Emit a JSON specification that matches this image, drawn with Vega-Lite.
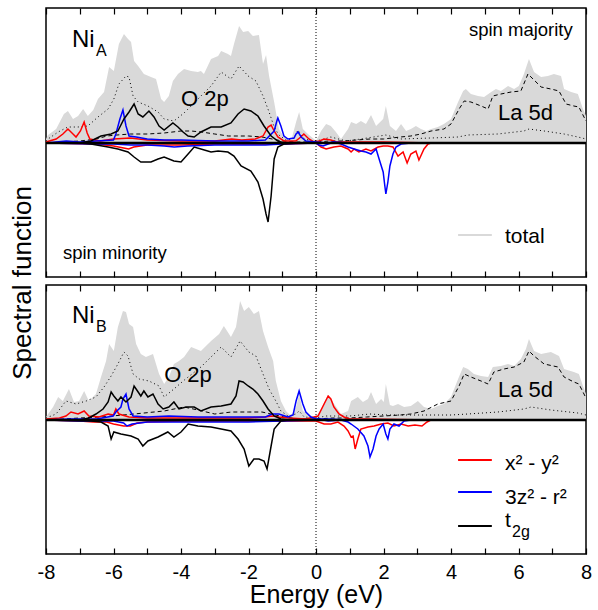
{
"$schema": "https://vega.github.io/schema/vega-lite/v6.json",
"padding": {"left": 8, "top": 6, "right": 12, "bottom": 0},
"bounds": "flush",
"config": {"font": "Liberation Sans", "view": {"stroke": "black", "strokeWidth": 1.5}, "axis": {"grid": false, "domain": false, "tickColor": "black", "labelColor": "black", "titleColor": "black", "titleFontWeight": "normal"}},
"spacing": 8,
"datasets": {
"curves": [
{"p":"A","s":"tot","d":"u","x":-8,"y":4},{"p":"A","s":"tot","d":"u","x":-7.94,"y":8},{"p":"A","s":"tot","d":"u","x":-7.7,"y":14},{"p":"A","s":"tot","d":"u","x":-7.47,"y":29},{"p":"A","s":"tot","d":"u","x":-7.35,"y":32},{"p":"A","s":"tot","d":"u","x":-7.2,"y":24},{"p":"A","s":"tot","d":"u","x":-7.05,"y":27},{"p":"A","s":"tot","d":"u","x":-6.9,"y":34},{"p":"A","s":"tot","d":"u","x":-6.76,"y":27},{"p":"A","s":"tot","d":"u","x":-6.6,"y":33},{"p":"A","s":"tot","d":"u","x":-6.46,"y":44},{"p":"A","s":"tot","d":"u","x":-6.28,"y":51},{"p":"A","s":"tot","d":"u","x":-6.13,"y":76},{"p":"A","s":"tot","d":"u","x":-5.99,"y":72},{"p":"A","s":"tot","d":"u","x":-5.84,"y":99},{"p":"A","s":"tot","d":"u","x":-5.69,"y":109},{"p":"A","s":"tot","d":"u","x":-5.57,"y":104},{"p":"A","s":"tot","d":"u","x":-5.48,"y":101},{"p":"A","s":"tot","d":"u","x":-5.39,"y":82},{"p":"A","s":"tot","d":"u","x":-5.27,"y":77},{"p":"A","s":"tot","d":"u","x":-5.1,"y":69},{"p":"A","s":"tot","d":"u","x":-4.89,"y":66},{"p":"A","s":"tot","d":"u","x":-4.74,"y":64},{"p":"A","s":"tot","d":"u","x":-4.59,"y":44},{"p":"A","s":"tot","d":"u","x":-4.5,"y":41},{"p":"A","s":"tot","d":"u","x":-4.36,"y":47},{"p":"A","s":"tot","d":"u","x":-4.24,"y":62},{"p":"A","s":"tot","d":"u","x":-4.09,"y":69},{"p":"A","s":"tot","d":"u","x":-3.91,"y":74},{"p":"A","s":"tot","d":"u","x":-3.7,"y":72},{"p":"A","s":"tot","d":"u","x":-3.5,"y":71},{"p":"A","s":"tot","d":"u","x":-3.41,"y":72},{"p":"A","s":"tot","d":"u","x":-3.32,"y":69},{"p":"A","s":"tot","d":"u","x":-3.11,"y":84},{"p":"A","s":"tot","d":"u","x":-2.9,"y":87},{"p":"A","s":"tot","d":"u","x":-2.81,"y":92},{"p":"A","s":"tot","d":"u","x":-2.61,"y":89},{"p":"A","s":"tot","d":"u","x":-2.52,"y":87},{"p":"A","s":"tot","d":"u","x":-2.43,"y":99},{"p":"A","s":"tot","d":"u","x":-2.28,"y":117},{"p":"A","s":"tot","d":"u","x":-2.16,"y":111},{"p":"A","s":"tot","d":"u","x":-2.01,"y":112},{"p":"A","s":"tot","d":"u","x":-1.87,"y":107},{"p":"A","s":"tot","d":"u","x":-1.69,"y":108},{"p":"A","s":"tot","d":"u","x":-1.57,"y":79},{"p":"A","s":"tot","d":"u","x":-1.48,"y":88},{"p":"A","s":"tot","d":"u","x":-1.39,"y":67},{"p":"A","s":"tot","d":"u","x":-1.24,"y":41},{"p":"A","s":"tot","d":"u","x":-1.1,"y":14},{"p":"A","s":"tot","d":"u","x":-0.95,"y":6},{"p":"A","s":"tot","d":"u","x":-0.74,"y":2},{"p":"A","s":"tot","d":"u","x":-0.59,"y":21},{"p":"A","s":"tot","d":"u","x":-0.5,"y":31},{"p":"A","s":"tot","d":"u","x":-0.39,"y":14},{"p":"A","s":"tot","d":"u","x":-0.24,"y":9},{"p":"A","s":"tot","d":"u","x":-0.06,"y":4},{"p":"A","s":"tot","d":"u","x":0,"y":2},{"p":"A","s":"tot","d":"u","x":0.15,"y":12},{"p":"A","s":"tot","d":"u","x":0.3,"y":19},{"p":"A","s":"tot","d":"u","x":0.44,"y":17},{"p":"A","s":"tot","d":"u","x":0.59,"y":11},{"p":"A","s":"tot","d":"u","x":0.74,"y":4},{"p":"A","s":"tot","d":"u","x":0.95,"y":14},{"p":"A","s":"tot","d":"u","x":1.04,"y":21},{"p":"A","s":"tot","d":"u","x":1.19,"y":19},{"p":"A","s":"tot","d":"u","x":1.33,"y":22},{"p":"A","s":"tot","d":"u","x":1.48,"y":19},{"p":"A","s":"tot","d":"u","x":1.63,"y":28},{"p":"A","s":"tot","d":"u","x":1.78,"y":17},{"p":"A","s":"tot","d":"u","x":1.87,"y":20},{"p":"A","s":"tot","d":"u","x":1.99,"y":24},{"p":"A","s":"tot","d":"u","x":2.07,"y":37},{"p":"A","s":"tot","d":"u","x":2.19,"y":17},{"p":"A","s":"tot","d":"u","x":2.37,"y":12},{"p":"A","s":"tot","d":"u","x":2.52,"y":19},{"p":"A","s":"tot","d":"u","x":2.67,"y":12},{"p":"A","s":"tot","d":"u","x":2.81,"y":14},{"p":"A","s":"tot","d":"u","x":2.96,"y":17},{"p":"A","s":"tot","d":"u","x":3.11,"y":14},{"p":"A","s":"tot","d":"u","x":3.26,"y":12},{"p":"A","s":"tot","d":"u","x":3.41,"y":14},{"p":"A","s":"tot","d":"u","x":3.61,"y":16},{"p":"A","s":"tot","d":"u","x":3.79,"y":19},{"p":"A","s":"tot","d":"u","x":4.0,"y":24},{"p":"A","s":"tot","d":"u","x":4.21,"y":41},{"p":"A","s":"tot","d":"u","x":4.36,"y":52},{"p":"A","s":"tot","d":"u","x":4.44,"y":54},{"p":"A","s":"tot","d":"u","x":4.59,"y":49},{"p":"A","s":"tot","d":"u","x":4.8,"y":47},{"p":"A","s":"tot","d":"u","x":4.98,"y":46},{"p":"A","s":"tot","d":"u","x":5.19,"y":51},{"p":"A","s":"tot","d":"u","x":5.33,"y":54},{"p":"A","s":"tot","d":"u","x":5.48,"y":52},{"p":"A","s":"tot","d":"u","x":5.69,"y":57},{"p":"A","s":"tot","d":"u","x":5.87,"y":54},{"p":"A","s":"tot","d":"u","x":6.01,"y":57},{"p":"A","s":"tot","d":"u","x":6.16,"y":69},{"p":"A","s":"tot","d":"u","x":6.31,"y":84},{"p":"A","s":"tot","d":"u","x":6.46,"y":71},{"p":"A","s":"tot","d":"u","x":6.67,"y":66},{"p":"A","s":"tot","d":"u","x":6.87,"y":67},{"p":"A","s":"tot","d":"u","x":7.05,"y":69},{"p":"A","s":"tot","d":"u","x":7.26,"y":67},{"p":"A","s":"tot","d":"u","x":7.35,"y":54},{"p":"A","s":"tot","d":"u","x":7.56,"y":51},{"p":"A","s":"tot","d":"u","x":7.76,"y":49},{"p":"A","s":"tot","d":"u","x":7.91,"y":34},{"p":"A","s":"tot","d":"u","x":8,"y":27},

{"p":"A","s":"o2p","d":"u","x":-8,"y":2},{"p":"A","s":"o2p","d":"u","x":-7.94,"y":4},{"p":"A","s":"o2p","d":"u","x":-7.64,"y":11},{"p":"A","s":"o2p","d":"u","x":-7.35,"y":16},{"p":"A","s":"o2p","d":"u","x":-7.05,"y":16},{"p":"A","s":"o2p","d":"u","x":-6.76,"y":17},{"p":"A","s":"o2p","d":"u","x":-6.46,"y":26},{"p":"A","s":"o2p","d":"u","x":-6.16,"y":34},{"p":"A","s":"o2p","d":"u","x":-5.99,"y":44},{"p":"A","s":"o2p","d":"u","x":-5.84,"y":59},{"p":"A","s":"o2p","d":"u","x":-5.63,"y":67},{"p":"A","s":"o2p","d":"u","x":-5.54,"y":66},{"p":"A","s":"o2p","d":"u","x":-5.42,"y":47},{"p":"A","s":"o2p","d":"u","x":-5.27,"y":41},{"p":"A","s":"o2p","d":"u","x":-4.98,"y":37},{"p":"A","s":"o2p","d":"u","x":-4.68,"y":31},{"p":"A","s":"o2p","d":"u","x":-4.5,"y":24},{"p":"A","s":"o2p","d":"u","x":-4.21,"y":22},{"p":"A","s":"o2p","d":"u","x":-3.91,"y":30},{"p":"A","s":"o2p","d":"u","x":-3.61,"y":40},{"p":"A","s":"o2p","d":"u","x":-3.41,"y":47},{"p":"A","s":"o2p","d":"u","x":-3.11,"y":57},{"p":"A","s":"o2p","d":"u","x":-2.81,"y":71},{"p":"A","s":"o2p","d":"u","x":-2.52,"y":64},{"p":"A","s":"o2p","d":"u","x":-2.28,"y":77},{"p":"A","s":"o2p","d":"u","x":-2.01,"y":67},{"p":"A","s":"o2p","d":"u","x":-1.78,"y":62},{"p":"A","s":"o2p","d":"u","x":-1.57,"y":47},{"p":"A","s":"o2p","d":"u","x":-1.39,"y":31},{"p":"A","s":"o2p","d":"u","x":-1.24,"y":16},{"p":"A","s":"o2p","d":"u","x":-1.1,"y":8},{"p":"A","s":"o2p","d":"u","x":-0.89,"y":3},{"p":"A","s":"o2p","d":"u","x":-0.68,"y":4},{"p":"A","s":"o2p","d":"u","x":-0.53,"y":13},{"p":"A","s":"o2p","d":"u","x":-0.39,"y":5},{"p":"A","s":"o2p","d":"u","x":-0.15,"y":2},{"p":"A","s":"o2p","d":"u","x":0.15,"y":3},{"p":"A","s":"o2p","d":"u","x":0.44,"y":6},{"p":"A","s":"o2p","d":"u","x":0.89,"y":2},{"p":"A","s":"o2p","d":"u","x":1.33,"y":4},{"p":"A","s":"o2p","d":"u","x":2.07,"y":8},{"p":"A","s":"o2p","d":"u","x":2.52,"y":4},{"p":"A","s":"o2p","d":"u","x":3.41,"y":5},{"p":"A","s":"o2p","d":"u","x":4.21,"y":6},{"p":"A","s":"o2p","d":"u","x":4.5,"y":8},{"p":"A","s":"o2p","d":"u","x":5.39,"y":9},{"p":"A","s":"o2p","d":"u","x":6.16,"y":12},{"p":"A","s":"o2p","d":"u","x":6.31,"y":14},{"p":"A","s":"o2p","d":"u","x":6.76,"y":12},{"p":"A","s":"o2p","d":"u","x":7.35,"y":9},{"p":"A","s":"o2p","d":"u","x":7.76,"y":6},{"p":"A","s":"o2p","d":"u","x":8,"y":4},

{"p":"A","s":"la","d":"u","x":-8,"y":0},{"p":"A","s":"la","d":"u","x":-7.5,"y":1},{"p":"A","s":"la","d":"u","x":-7,"y":2},{"p":"A","s":"la","d":"u","x":-6.5,"y":4},{"p":"A","s":"la","d":"u","x":-6.2,"y":7},{"p":"A","s":"la","d":"u","x":-5.9,"y":8},{"p":"A","s":"la","d":"u","x":-5.5,"y":9},{"p":"A","s":"la","d":"u","x":-5,"y":9},{"p":"A","s":"la","d":"u","x":-4.5,"y":10},{"p":"A","s":"la","d":"u","x":-4,"y":12},{"p":"A","s":"la","d":"u","x":-3.7,"y":12},{"p":"A","s":"la","d":"u","x":-3.4,"y":11},{"p":"A","s":"la","d":"u","x":-3,"y":9},{"p":"A","s":"la","d":"u","x":-2.6,"y":7},{"p":"A","s":"la","d":"u","x":-2,"y":7},{"p":"A","s":"la","d":"u","x":-1.6,"y":6},{"p":"A","s":"la","d":"u","x":-1.3,"y":4},{"p":"A","s":"la","d":"u","x":-1,"y":2},{"p":"A","s":"la","d":"u","x":-0.6,"y":1},{"p":"A","s":"la","d":"u","x":0,"y":1},{"p":"A","s":"la","d":"u","x":0.4,"y":2},{"p":"A","s":"la","d":"u","x":0.8,"y":2},{"p":"A","s":"la","d":"u","x":1.2,"y":3},{"p":"A","s":"la","d":"u","x":1.6,"y":4},{"p":"A","s":"la","d":"u","x":2,"y":4},{"p":"A","s":"la","d":"u","x":2.5,"y":6},{"p":"A","s":"la","d":"u","x":2.81,"y":7},{"p":"A","s":"la","d":"u","x":3.11,"y":9},{"p":"A","s":"la","d":"u","x":3.41,"y":12},{"p":"A","s":"la","d":"u","x":3.79,"y":14},{"p":"A","s":"la","d":"u","x":4,"y":19},{"p":"A","s":"la","d":"u","x":4.24,"y":34},{"p":"A","s":"la","d":"u","x":4.39,"y":42},{"p":"A","s":"la","d":"u","x":4.59,"y":41},{"p":"A","s":"la","d":"u","x":4.89,"y":37},{"p":"A","s":"la","d":"u","x":5.1,"y":34},{"p":"A","s":"la","d":"u","x":5.24,"y":47},{"p":"A","s":"la","d":"u","x":5.48,"y":49},{"p":"A","s":"la","d":"u","x":5.78,"y":51},{"p":"A","s":"la","d":"u","x":6.07,"y":52},{"p":"A","s":"la","d":"u","x":6.28,"y":69},{"p":"A","s":"la","d":"u","x":6.43,"y":64},{"p":"A","s":"la","d":"u","x":6.67,"y":56},{"p":"A","s":"la","d":"u","x":6.96,"y":54},{"p":"A","s":"la","d":"u","x":7.2,"y":52},{"p":"A","s":"la","d":"u","x":7.41,"y":39},{"p":"A","s":"la","d":"u","x":7.64,"y":37},{"p":"A","s":"la","d":"u","x":7.79,"y":36},{"p":"A","s":"la","d":"u","x":7.94,"y":26},{"p":"A","s":"la","d":"u","x":8,"y":22},

{"p":"A","s":"xy","d":"u","x":-8,"y":1},{"p":"A","s":"xy","d":"u","x":-7.7,"y":4},{"p":"A","s":"xy","d":"u","x":-7.5,"y":9},{"p":"A","s":"xy","d":"u","x":-7.35,"y":14},{"p":"A","s":"xy","d":"u","x":-7.2,"y":9},{"p":"A","s":"xy","d":"u","x":-7.11,"y":6},{"p":"A","s":"xy","d":"u","x":-6.98,"y":12},{"p":"A","s":"xy","d":"u","x":-6.87,"y":21},{"p":"A","s":"xy","d":"u","x":-6.78,"y":10},{"p":"A","s":"xy","d":"u","x":-6.7,"y":4},{"p":"A","s":"xy","d":"u","x":-6.4,"y":2},{"p":"A","s":"xy","d":"u","x":-6,"y":4},{"p":"A","s":"xy","d":"u","x":-5.5,"y":5},{"p":"A","s":"xy","d":"u","x":-5,"y":3},{"p":"A","s":"xy","d":"u","x":-4,"y":2},{"p":"A","s":"xy","d":"u","x":-3,"y":2},{"p":"A","s":"xy","d":"u","x":-2.5,"y":4},{"p":"A","s":"xy","d":"u","x":-2.2,"y":3},{"p":"A","s":"xy","d":"u","x":-1.8,"y":4},{"p":"A","s":"xy","d":"u","x":-1.57,"y":7},{"p":"A","s":"xy","d":"u","x":-1.42,"y":16},{"p":"A","s":"xy","d":"u","x":-1.33,"y":18},{"p":"A","s":"xy","d":"u","x":-1.24,"y":12},{"p":"A","s":"xy","d":"u","x":-1.13,"y":6},{"p":"A","s":"xy","d":"u","x":-0.95,"y":2},{"p":"A","s":"xy","d":"u","x":-0.6,"y":2},{"p":"A","s":"xy","d":"u","x":-0.45,"y":6},{"p":"A","s":"xy","d":"u","x":-0.36,"y":9},{"p":"A","s":"xy","d":"u","x":-0.21,"y":4},{"p":"A","s":"xy","d":"u","x":-0.06,"y":1},{"p":"A","s":"xy","d":"u","x":0.1,"y":2},{"p":"A","s":"xy","d":"u","x":0.24,"y":4},{"p":"A","s":"xy","d":"u","x":0.44,"y":3},{"p":"A","s":"xy","d":"u","x":0.6,"y":1},{"p":"A","s":"xy","d":"u","x":1,"y":1},{"p":"A","s":"xy","d":"u","x":2,"y":1},{"p":"A","s":"xy","d":"u","x":3.4,"y":0},
{"p":"A","s":"xy","d":"d","x":-8,"y":0},{"p":"A","s":"xy","d":"d","x":-6.5,"y":-1},{"p":"A","s":"xy","d":"d","x":-6,"y":-3},{"p":"A","s":"xy","d":"d","x":-5.7,"y":-5},{"p":"A","s":"xy","d":"d","x":-5.55,"y":-6},{"p":"A","s":"xy","d":"d","x":-5.4,"y":-4},{"p":"A","s":"xy","d":"d","x":-5,"y":-2},{"p":"A","s":"xy","d":"d","x":-4,"y":-2},{"p":"A","s":"xy","d":"d","x":-3,"y":-1},{"p":"A","s":"xy","d":"d","x":-2,"y":-1},{"p":"A","s":"xy","d":"d","x":-1,"y":-1},{"p":"A","s":"xy","d":"d","x":0,"y":0},{"p":"A","s":"xy","d":"d","x":0.15,"y":-4},{"p":"A","s":"xy","d":"d","x":0.3,"y":-6},{"p":"A","s":"xy","d":"d","x":0.53,"y":-4},{"p":"A","s":"xy","d":"d","x":0.74,"y":-3},{"p":"A","s":"xy","d":"d","x":0.95,"y":-6},{"p":"A","s":"xy","d":"d","x":1.04,"y":-9},{"p":"A","s":"xy","d":"d","x":1.13,"y":-6},{"p":"A","s":"xy","d":"d","x":1.27,"y":-9},{"p":"A","s":"xy","d":"d","x":1.48,"y":-6},{"p":"A","s":"xy","d":"d","x":1.63,"y":-8},{"p":"A","s":"xy","d":"d","x":1.84,"y":-4},{"p":"A","s":"xy","d":"d","x":1.99,"y":-3},{"p":"A","s":"xy","d":"d","x":2.13,"y":-3},{"p":"A","s":"xy","d":"d","x":2.28,"y":-4},{"p":"A","s":"xy","d":"d","x":2.43,"y":-13},{"p":"A","s":"xy","d":"d","x":2.58,"y":-9},{"p":"A","s":"xy","d":"d","x":2.7,"y":-20},{"p":"A","s":"xy","d":"d","x":2.81,"y":-11},{"p":"A","s":"xy","d":"d","x":2.96,"y":-8},{"p":"A","s":"xy","d":"d","x":3.05,"y":-17},{"p":"A","s":"xy","d":"d","x":3.2,"y":-6},{"p":"A","s":"xy","d":"d","x":3.32,"y":-1},{"p":"A","s":"xy","d":"d","x":3.41,"y":0},

{"p":"A","s":"z","d":"u","x":-8,"y":0},{"p":"A","s":"z","d":"u","x":-7.4,"y":2},{"p":"A","s":"z","d":"u","x":-7,"y":1},{"p":"A","s":"z","d":"u","x":-6.5,"y":2},{"p":"A","s":"z","d":"u","x":-6,"y":3},{"p":"A","s":"z","d":"u","x":-5.93,"y":9},{"p":"A","s":"z","d":"u","x":-5.81,"y":24},{"p":"A","s":"z","d":"u","x":-5.72,"y":33},{"p":"A","s":"z","d":"u","x":-5.63,"y":17},{"p":"A","s":"z","d":"u","x":-5.54,"y":7},{"p":"A","s":"z","d":"u","x":-5.33,"y":6},{"p":"A","s":"z","d":"u","x":-5,"y":4},{"p":"A","s":"z","d":"u","x":-4.5,"y":3},{"p":"A","s":"z","d":"u","x":-4,"y":3},{"p":"A","s":"z","d":"u","x":-3,"y":2},{"p":"A","s":"z","d":"u","x":-2,"y":2},{"p":"A","s":"z","d":"u","x":-1.5,"y":3},{"p":"A","s":"z","d":"u","x":-1.24,"y":12},{"p":"A","s":"z","d":"u","x":-1.16,"y":22},{"p":"A","s":"z","d":"u","x":-1.13,"y":25},{"p":"A","s":"z","d":"u","x":-1.04,"y":17},{"p":"A","s":"z","d":"u","x":-0.95,"y":7},{"p":"A","s":"z","d":"u","x":-0.83,"y":4},{"p":"A","s":"z","d":"u","x":-0.65,"y":5},{"p":"A","s":"z","d":"u","x":-0.59,"y":9},{"p":"A","s":"z","d":"u","x":-0.53,"y":11},{"p":"A","s":"z","d":"u","x":-0.44,"y":6},{"p":"A","s":"z","d":"u","x":-0.3,"y":2},{"p":"A","s":"z","d":"u","x":0,"y":1},{"p":"A","s":"z","d":"u","x":0.3,"y":0},{"p":"A","s":"z","d":"u","x":0.53,"y":1},{"p":"A","s":"z","d":"u","x":1,"y":0},{"p":"A","s":"z","d":"u","x":3.4,"y":0},
{"p":"A","s":"z","d":"d","x":-8,"y":0},{"p":"A","s":"z","d":"d","x":-6.5,"y":-1},{"p":"A","s":"z","d":"d","x":-6,"y":-1},{"p":"A","s":"z","d":"d","x":-5.5,"y":-2},{"p":"A","s":"z","d":"d","x":-5,"y":-2},{"p":"A","s":"z","d":"d","x":-4.5,"y":-3},{"p":"A","s":"z","d":"d","x":-4.2,"y":-4},{"p":"A","s":"z","d":"d","x":-3.8,"y":-3},{"p":"A","s":"z","d":"d","x":-3,"y":-2},{"p":"A","s":"z","d":"d","x":-2,"y":-2},{"p":"A","s":"z","d":"d","x":-1.5,"y":-2},{"p":"A","s":"z","d":"d","x":-1,"y":-1},{"p":"A","s":"z","d":"d","x":0,"y":0},{"p":"A","s":"z","d":"d","x":0.09,"y":-2},{"p":"A","s":"z","d":"d","x":0.21,"y":-3},{"p":"A","s":"z","d":"d","x":0.36,"y":-1},{"p":"A","s":"z","d":"d","x":0.53,"y":1},{"p":"A","s":"z","d":"d","x":0.74,"y":-1},{"p":"A","s":"z","d":"d","x":0.95,"y":-4},{"p":"A","s":"z","d":"d","x":1.13,"y":-6},{"p":"A","s":"z","d":"d","x":1.33,"y":-8},{"p":"A","s":"z","d":"d","x":1.48,"y":-9},{"p":"A","s":"z","d":"d","x":1.63,"y":-11},{"p":"A","s":"z","d":"d","x":1.78,"y":-6},{"p":"A","s":"z","d":"d","x":1.87,"y":-16},{"p":"A","s":"z","d":"d","x":1.99,"y":-29},{"p":"A","s":"z","d":"d","x":2.04,"y":-43},{"p":"A","s":"z","d":"d","x":2.07,"y":-51},{"p":"A","s":"z","d":"d","x":2.13,"y":-39},{"p":"A","s":"z","d":"d","x":2.19,"y":-23},{"p":"A","s":"z","d":"d","x":2.28,"y":-11},{"p":"A","s":"z","d":"d","x":2.37,"y":-4},{"p":"A","s":"z","d":"d","x":2.52,"y":-1},{"p":"A","s":"z","d":"d","x":2.81,"y":0},{"p":"A","s":"z","d":"d","x":3.4,"y":0},

{"p":"A","s":"t","d":"u","x":-8,"y":0},{"p":"A","s":"t","d":"u","x":-7,"y":0},{"p":"A","s":"t","d":"u","x":-6.67,"y":2},{"p":"A","s":"t","d":"u","x":-6.37,"y":7},{"p":"A","s":"t","d":"u","x":-6.07,"y":9},{"p":"A","s":"t","d":"u","x":-5.87,"y":12},{"p":"A","s":"t","d":"u","x":-5.69,"y":24},{"p":"A","s":"t","d":"u","x":-5.54,"y":31},{"p":"A","s":"t","d":"u","x":-5.39,"y":39},{"p":"A","s":"t","d":"u","x":-5.27,"y":29},{"p":"A","s":"t","d":"u","x":-5.13,"y":26},{"p":"A","s":"t","d":"u","x":-4.95,"y":32},{"p":"A","s":"t","d":"u","x":-4.8,"y":26},{"p":"A","s":"t","d":"u","x":-4.65,"y":17},{"p":"A","s":"t","d":"u","x":-4.5,"y":13},{"p":"A","s":"t","d":"u","x":-4.24,"y":20},{"p":"A","s":"t","d":"u","x":-4.09,"y":16},{"p":"A","s":"t","d":"u","x":-3.94,"y":11},{"p":"A","s":"t","d":"u","x":-3.79,"y":7},{"p":"A","s":"t","d":"u","x":-3.61,"y":6},{"p":"A","s":"t","d":"u","x":-3.41,"y":11},{"p":"A","s":"t","d":"u","x":-3.11,"y":16},{"p":"A","s":"t","d":"u","x":-2.81,"y":16},{"p":"A","s":"t","d":"u","x":-2.52,"y":20},{"p":"A","s":"t","d":"u","x":-2.31,"y":29},{"p":"A","s":"t","d":"u","x":-2.13,"y":34},{"p":"A","s":"t","d":"u","x":-1.93,"y":32},{"p":"A","s":"t","d":"u","x":-1.72,"y":27},{"p":"A","s":"t","d":"u","x":-1.54,"y":17},{"p":"A","s":"t","d":"u","x":-1.33,"y":7},{"p":"A","s":"t","d":"u","x":-1.13,"y":2},{"p":"A","s":"t","d":"u","x":-0.95,"y":0},{"p":"A","s":"t","d":"u","x":8,"y":0},
{"p":"A","s":"t","d":"d","x":-8,"y":0},{"p":"A","s":"t","d":"d","x":-7,"y":0},{"p":"A","s":"t","d":"d","x":-6.67,"y":-1},{"p":"A","s":"t","d":"d","x":-6.16,"y":-4},{"p":"A","s":"t","d":"d","x":-5.87,"y":-6},{"p":"A","s":"t","d":"d","x":-5.57,"y":-9},{"p":"A","s":"t","d":"d","x":-5.39,"y":-14},{"p":"A","s":"t","d":"d","x":-5.19,"y":-19},{"p":"A","s":"t","d":"d","x":-4.89,"y":-19},{"p":"A","s":"t","d":"d","x":-4.68,"y":-16},{"p":"A","s":"t","d":"d","x":-4.5,"y":-14},{"p":"A","s":"t","d":"d","x":-4.21,"y":-18},{"p":"A","s":"t","d":"d","x":-4,"y":-19},{"p":"A","s":"t","d":"d","x":-3.79,"y":-11},{"p":"A","s":"t","d":"d","x":-3.61,"y":-4},{"p":"A","s":"t","d":"d","x":-3.41,"y":-6},{"p":"A","s":"t","d":"d","x":-3.11,"y":-9},{"p":"A","s":"t","d":"d","x":-2.9,"y":-8},{"p":"A","s":"t","d":"d","x":-2.61,"y":-9},{"p":"A","s":"t","d":"d","x":-2.43,"y":-13},{"p":"A","s":"t","d":"d","x":-2.22,"y":-23},{"p":"A","s":"t","d":"d","x":-1.93,"y":-28},{"p":"A","s":"t","d":"d","x":-1.72,"y":-39},{"p":"A","s":"t","d":"d","x":-1.57,"y":-56},{"p":"A","s":"t","d":"d","x":-1.48,"y":-71},{"p":"A","s":"t","d":"d","x":-1.42,"y":-79},{"p":"A","s":"t","d":"d","x":-1.33,"y":-53},{"p":"A","s":"t","d":"d","x":-1.24,"y":-16},{"p":"A","s":"t","d":"d","x":-1.13,"y":-4},{"p":"A","s":"t","d":"d","x":-0.95,"y":-1},{"p":"A","s":"t","d":"d","x":-0.5,"y":0},{"p":"A","s":"t","d":"d","x":8,"y":0},

{"p":"B","s":"tot","d":"u","x":-8,"y":3},{"p":"B","s":"tot","d":"u","x":-7.79,"y":13},{"p":"B","s":"tot","d":"u","x":-7.64,"y":23},{"p":"B","s":"tot","d":"u","x":-7.5,"y":19},{"p":"B","s":"tot","d":"u","x":-7.32,"y":31},{"p":"B","s":"tot","d":"u","x":-7.17,"y":18},{"p":"B","s":"tot","d":"u","x":-7.02,"y":19},{"p":"B","s":"tot","d":"u","x":-6.87,"y":29},{"p":"B","s":"tot","d":"u","x":-6.73,"y":19},{"p":"B","s":"tot","d":"u","x":-6.52,"y":26},{"p":"B","s":"tot","d":"u","x":-6.37,"y":43},{"p":"B","s":"tot","d":"u","x":-6.22,"y":59},{"p":"B","s":"tot","d":"u","x":-6.13,"y":76},{"p":"B","s":"tot","d":"u","x":-5.99,"y":69},{"p":"B","s":"tot","d":"u","x":-5.87,"y":93},{"p":"B","s":"tot","d":"u","x":-5.72,"y":109},{"p":"B","s":"tot","d":"u","x":-5.63,"y":108},{"p":"B","s":"tot","d":"u","x":-5.54,"y":96},{"p":"B","s":"tot","d":"u","x":-5.42,"y":93},{"p":"B","s":"tot","d":"u","x":-5.33,"y":76},{"p":"B","s":"tot","d":"u","x":-5.19,"y":66},{"p":"B","s":"tot","d":"u","x":-5.04,"y":63},{"p":"B","s":"tot","d":"u","x":-4.83,"y":66},{"p":"B","s":"tot","d":"u","x":-4.65,"y":46},{"p":"B","s":"tot","d":"u","x":-4.5,"y":36},{"p":"B","s":"tot","d":"u","x":-4.36,"y":43},{"p":"B","s":"tot","d":"u","x":-4.21,"y":56},{"p":"B","s":"tot","d":"u","x":-4.06,"y":59},{"p":"B","s":"tot","d":"u","x":-3.91,"y":63},{"p":"B","s":"tot","d":"u","x":-3.7,"y":73},{"p":"B","s":"tot","d":"u","x":-3.41,"y":69},{"p":"B","s":"tot","d":"u","x":-3.11,"y":79},{"p":"B","s":"tot","d":"u","x":-2.87,"y":86},{"p":"B","s":"tot","d":"u","x":-2.73,"y":94},{"p":"B","s":"tot","d":"u","x":-2.52,"y":83},{"p":"B","s":"tot","d":"u","x":-2.37,"y":93},{"p":"B","s":"tot","d":"u","x":-2.25,"y":119},{"p":"B","s":"tot","d":"u","x":-2.13,"y":109},{"p":"B","s":"tot","d":"u","x":-1.99,"y":113},{"p":"B","s":"tot","d":"u","x":-1.84,"y":106},{"p":"B","s":"tot","d":"u","x":-1.69,"y":109},{"p":"B","s":"tot","d":"u","x":-1.57,"y":89},{"p":"B","s":"tot","d":"u","x":-1.42,"y":73},{"p":"B","s":"tot","d":"u","x":-1.27,"y":59},{"p":"B","s":"tot","d":"u","x":-1.19,"y":39},{"p":"B","s":"tot","d":"u","x":-1.04,"y":19},{"p":"B","s":"tot","d":"u","x":-0.89,"y":9},{"p":"B","s":"tot","d":"u","x":-0.74,"y":4},{"p":"B","s":"tot","d":"u","x":-0.59,"y":13},{"p":"B","s":"tot","d":"u","x":-0.5,"y":26},{"p":"B","s":"tot","d":"u","x":-0.39,"y":9},{"p":"B","s":"tot","d":"u","x":-0.24,"y":6},{"p":"B","s":"tot","d":"u","x":-0.06,"y":3},{"p":"B","s":"tot","d":"u","x":0,"y":3},{"p":"B","s":"tot","d":"u","x":0.15,"y":11},{"p":"B","s":"tot","d":"u","x":0.36,"y":25},{"p":"B","s":"tot","d":"u","x":0.44,"y":21},{"p":"B","s":"tot","d":"u","x":0.74,"y":6},{"p":"B","s":"tot","d":"u","x":0.95,"y":9},{"p":"B","s":"tot","d":"u","x":1.04,"y":19},{"p":"B","s":"tot","d":"u","x":1.24,"y":23},{"p":"B","s":"tot","d":"u","x":1.39,"y":18},{"p":"B","s":"tot","d":"u","x":1.54,"y":21},{"p":"B","s":"tot","d":"u","x":1.63,"y":28},{"p":"B","s":"tot","d":"u","x":1.78,"y":16},{"p":"B","s":"tot","d":"u","x":1.93,"y":21},{"p":"B","s":"tot","d":"u","x":2.01,"y":18},{"p":"B","s":"tot","d":"u","x":2.07,"y":36},{"p":"B","s":"tot","d":"u","x":2.19,"y":15},{"p":"B","s":"tot","d":"u","x":2.28,"y":14},{"p":"B","s":"tot","d":"u","x":2.43,"y":16},{"p":"B","s":"tot","d":"u","x":2.61,"y":13},{"p":"B","s":"tot","d":"u","x":2.81,"y":14},{"p":"B","s":"tot","d":"u","x":3.02,"y":19},{"p":"B","s":"tot","d":"u","x":3.2,"y":13},{"p":"B","s":"tot","d":"u","x":3.41,"y":11},{"p":"B","s":"tot","d":"u","x":3.61,"y":14},{"p":"B","s":"tot","d":"u","x":3.79,"y":16},{"p":"B","s":"tot","d":"u","x":4,"y":23},{"p":"B","s":"tot","d":"u","x":4.21,"y":41},{"p":"B","s":"tot","d":"u","x":4.36,"y":53},{"p":"B","s":"tot","d":"u","x":4.5,"y":51},{"p":"B","s":"tot","d":"u","x":4.68,"y":46},{"p":"B","s":"tot","d":"u","x":4.89,"y":44},{"p":"B","s":"tot","d":"u","x":5.1,"y":43},{"p":"B","s":"tot","d":"u","x":5.24,"y":53},{"p":"B","s":"tot","d":"u","x":5.48,"y":54},{"p":"B","s":"tot","d":"u","x":5.69,"y":56},{"p":"B","s":"tot","d":"u","x":5.87,"y":54},{"p":"B","s":"tot","d":"u","x":6.07,"y":61},{"p":"B","s":"tot","d":"u","x":6.22,"y":71},{"p":"B","s":"tot","d":"u","x":6.31,"y":81},{"p":"B","s":"tot","d":"u","x":6.46,"y":69},{"p":"B","s":"tot","d":"u","x":6.67,"y":66},{"p":"B","s":"tot","d":"u","x":6.96,"y":68},{"p":"B","s":"tot","d":"u","x":7.2,"y":64},{"p":"B","s":"tot","d":"u","x":7.35,"y":51},{"p":"B","s":"tot","d":"u","x":7.64,"y":48},{"p":"B","s":"tot","d":"u","x":7.79,"y":46},{"p":"B","s":"tot","d":"u","x":7.91,"y":34},{"p":"B","s":"tot","d":"u","x":8,"y":26},

{"p":"B","s":"o2p","d":"u","x":-8,"y":2},{"p":"B","s":"o2p","d":"u","x":-7.7,"y":6},{"p":"B","s":"o2p","d":"u","x":-7.41,"y":19},{"p":"B","s":"o2p","d":"u","x":-7.11,"y":16},{"p":"B","s":"o2p","d":"u","x":-6.81,"y":19},{"p":"B","s":"o2p","d":"u","x":-6.52,"y":23},{"p":"B","s":"o2p","d":"u","x":-6.28,"y":33},{"p":"B","s":"o2p","d":"u","x":-6.07,"y":44},{"p":"B","s":"o2p","d":"u","x":-5.87,"y":56},{"p":"B","s":"o2p","d":"u","x":-5.69,"y":68},{"p":"B","s":"o2p","d":"u","x":-5.57,"y":64},{"p":"B","s":"o2p","d":"u","x":-5.42,"y":46},{"p":"B","s":"o2p","d":"u","x":-5.24,"y":41},{"p":"B","s":"o2p","d":"u","x":-4.95,"y":39},{"p":"B","s":"o2p","d":"u","x":-4.65,"y":34},{"p":"B","s":"o2p","d":"u","x":-4.5,"y":23},{"p":"B","s":"o2p","d":"u","x":-4.21,"y":31},{"p":"B","s":"o2p","d":"u","x":-3.9,"y":40},{"p":"B","s":"o2p","d":"u","x":-3.41,"y":53},{"p":"B","s":"o2p","d":"u","x":-3.11,"y":63},{"p":"B","s":"o2p","d":"u","x":-2.81,"y":73},{"p":"B","s":"o2p","d":"u","x":-2.52,"y":63},{"p":"B","s":"o2p","d":"u","x":-2.25,"y":79},{"p":"B","s":"o2p","d":"u","x":-1.99,"y":68},{"p":"B","s":"o2p","d":"u","x":-1.78,"y":64},{"p":"B","s":"o2p","d":"u","x":-1.57,"y":46},{"p":"B","s":"o2p","d":"u","x":-1.39,"y":31},{"p":"B","s":"o2p","d":"u","x":-1.19,"y":19},{"p":"B","s":"o2p","d":"u","x":-1.04,"y":9},{"p":"B","s":"o2p","d":"u","x":-0.83,"y":4},{"p":"B","s":"o2p","d":"u","x":-0.6,"y":6},{"p":"B","s":"o2p","d":"u","x":-0.5,"y":9},{"p":"B","s":"o2p","d":"u","x":-0.35,"y":3},{"p":"B","s":"o2p","d":"u","x":0,"y":2},{"p":"B","s":"o2p","d":"u","x":0.3,"y":4},{"p":"B","s":"o2p","d":"u","x":1,"y":4},{"p":"B","s":"o2p","d":"u","x":1.6,"y":6},{"p":"B","s":"o2p","d":"u","x":2.1,"y":5},{"p":"B","s":"o2p","d":"u","x":3,"y":5},{"p":"B","s":"o2p","d":"u","x":4,"y":5},{"p":"B","s":"o2p","d":"u","x":4.5,"y":6},{"p":"B","s":"o2p","d":"u","x":5.39,"y":8},{"p":"B","s":"o2p","d":"u","x":6.16,"y":11},{"p":"B","s":"o2p","d":"u","x":6.37,"y":13},{"p":"B","s":"o2p","d":"u","x":6.96,"y":10},{"p":"B","s":"o2p","d":"u","x":7.76,"y":7},{"p":"B","s":"o2p","d":"u","x":8,"y":5},

{"p":"B","s":"la","d":"u","x":-8,"y":0},{"p":"B","s":"la","d":"u","x":-7,"y":2},{"p":"B","s":"la","d":"u","x":-6.37,"y":3},{"p":"B","s":"la","d":"u","x":-5.39,"y":6},{"p":"B","s":"la","d":"u","x":-4.5,"y":9},{"p":"B","s":"la","d":"u","x":-3.91,"y":13},{"p":"B","s":"la","d":"u","x":-3.5,"y":10},{"p":"B","s":"la","d":"u","x":-3,"y":6},{"p":"B","s":"la","d":"u","x":-2.5,"y":8},{"p":"B","s":"la","d":"u","x":-2,"y":8},{"p":"B","s":"la","d":"u","x":-1.6,"y":8},{"p":"B","s":"la","d":"u","x":-1.2,"y":5},{"p":"B","s":"la","d":"u","x":-0.95,"y":3},{"p":"B","s":"la","d":"u","x":-0.5,"y":1},{"p":"B","s":"la","d":"u","x":0,"y":1},{"p":"B","s":"la","d":"u","x":0.5,"y":2},{"p":"B","s":"la","d":"u","x":1,"y":2},{"p":"B","s":"la","d":"u","x":1.5,"y":3},{"p":"B","s":"la","d":"u","x":2,"y":4},{"p":"B","s":"la","d":"u","x":2.5,"y":5},{"p":"B","s":"la","d":"u","x":2.81,"y":6},{"p":"B","s":"la","d":"u","x":3.2,"y":9},{"p":"B","s":"la","d":"u","x":3.61,"y":16},{"p":"B","s":"la","d":"u","x":4,"y":19},{"p":"B","s":"la","d":"u","x":4.24,"y":34},{"p":"B","s":"la","d":"u","x":4.39,"y":46},{"p":"B","s":"la","d":"u","x":4.59,"y":43},{"p":"B","s":"la","d":"u","x":4.89,"y":39},{"p":"B","s":"la","d":"u","x":5.1,"y":36},{"p":"B","s":"la","d":"u","x":5.27,"y":48},{"p":"B","s":"la","d":"u","x":5.57,"y":51},{"p":"B","s":"la","d":"u","x":5.87,"y":53},{"p":"B","s":"la","d":"u","x":6.16,"y":58},{"p":"B","s":"la","d":"u","x":6.31,"y":69},{"p":"B","s":"la","d":"u","x":6.46,"y":64},{"p":"B","s":"la","d":"u","x":6.76,"y":56},{"p":"B","s":"la","d":"u","x":7.17,"y":53},{"p":"B","s":"la","d":"u","x":7.35,"y":43},{"p":"B","s":"la","d":"u","x":7.64,"y":38},{"p":"B","s":"la","d":"u","x":7.79,"y":36},{"p":"B","s":"la","d":"u","x":7.94,"y":26},{"p":"B","s":"la","d":"u","x":8,"y":22},

{"p":"B","s":"xy","d":"u","x":-8,"y":1},{"p":"B","s":"xy","d":"u","x":-7.6,"y":2},{"p":"B","s":"xy","d":"u","x":-7.41,"y":4},{"p":"B","s":"xy","d":"u","x":-7.26,"y":8},{"p":"B","s":"xy","d":"u","x":-7.05,"y":6},{"p":"B","s":"xy","d":"u","x":-6.87,"y":9},{"p":"B","s":"xy","d":"u","x":-6.73,"y":4},{"p":"B","s":"xy","d":"u","x":-6.43,"y":3},{"p":"B","s":"xy","d":"u","x":-6.16,"y":6},{"p":"B","s":"xy","d":"u","x":-6,"y":5},{"p":"B","s":"xy","d":"u","x":-5.93,"y":11},{"p":"B","s":"xy","d":"u","x":-5.84,"y":6},{"p":"B","s":"xy","d":"u","x":-5.54,"y":3},{"p":"B","s":"xy","d":"u","x":-5,"y":2},{"p":"B","s":"xy","d":"u","x":-4,"y":2},{"p":"B","s":"xy","d":"u","x":-3,"y":2},{"p":"B","s":"xy","d":"u","x":-2,"y":2},{"p":"B","s":"xy","d":"u","x":-1.5,"y":3},{"p":"B","s":"xy","d":"u","x":-1.3,"y":4},{"p":"B","s":"xy","d":"u","x":-1.1,"y":3},{"p":"B","s":"xy","d":"u","x":-0.8,"y":2},{"p":"B","s":"xy","d":"u","x":-0.3,"y":1},{"p":"B","s":"xy","d":"u","x":0.06,"y":4},{"p":"B","s":"xy","d":"u","x":0.21,"y":14},{"p":"B","s":"xy","d":"u","x":0.36,"y":24},{"p":"B","s":"xy","d":"u","x":0.44,"y":21},{"p":"B","s":"xy","d":"u","x":0.53,"y":13},{"p":"B","s":"xy","d":"u","x":0.68,"y":6},{"p":"B","s":"xy","d":"u","x":0.83,"y":3},{"p":"B","s":"xy","d":"u","x":1,"y":1},{"p":"B","s":"xy","d":"u","x":1.5,"y":1},{"p":"B","s":"xy","d":"u","x":3.4,"y":0},
{"p":"B","s":"xy","d":"d","x":-8,"y":0},{"p":"B","s":"xy","d":"d","x":-7,"y":-1},{"p":"B","s":"xy","d":"d","x":-6.6,"y":-2},{"p":"B","s":"xy","d":"d","x":-6.2,"y":-2},{"p":"B","s":"xy","d":"d","x":-6,"y":-4},{"p":"B","s":"xy","d":"d","x":-5.7,"y":-6},{"p":"B","s":"xy","d":"d","x":-5.5,"y":-6},{"p":"B","s":"xy","d":"d","x":-5.3,"y":-3},{"p":"B","s":"xy","d":"d","x":-5,"y":-2},{"p":"B","s":"xy","d":"d","x":-4,"y":-1},{"p":"B","s":"xy","d":"d","x":-2,"y":-1},{"p":"B","s":"xy","d":"d","x":0,"y":-1},{"p":"B","s":"xy","d":"d","x":0.24,"y":-4},{"p":"B","s":"xy","d":"d","x":0.44,"y":-4},{"p":"B","s":"xy","d":"d","x":0.65,"y":-2},{"p":"B","s":"xy","d":"d","x":0.83,"y":-6},{"p":"B","s":"xy","d":"d","x":0.95,"y":-11},{"p":"B","s":"xy","d":"d","x":1.04,"y":-17},{"p":"B","s":"xy","d":"d","x":1.1,"y":-16},{"p":"B","s":"xy","d":"d","x":1.16,"y":-29},{"p":"B","s":"xy","d":"d","x":1.24,"y":-19},{"p":"B","s":"xy","d":"d","x":1.33,"y":-9},{"p":"B","s":"xy","d":"d","x":1.54,"y":-7},{"p":"B","s":"xy","d":"d","x":1.72,"y":-6},{"p":"B","s":"xy","d":"d","x":1.93,"y":-4},{"p":"B","s":"xy","d":"d","x":2.13,"y":-3},{"p":"B","s":"xy","d":"d","x":2.31,"y":-6},{"p":"B","s":"xy","d":"d","x":2.52,"y":-4},{"p":"B","s":"xy","d":"d","x":2.73,"y":-6},{"p":"B","s":"xy","d":"d","x":2.93,"y":-5},{"p":"B","s":"xy","d":"d","x":3.14,"y":-6},{"p":"B","s":"xy","d":"d","x":3.29,"y":-2},{"p":"B","s":"xy","d":"d","x":3.4,"y":0},

{"p":"B","s":"z","d":"u","x":-8,"y":0},{"p":"B","s":"z","d":"u","x":-7.3,"y":1},{"p":"B","s":"z","d":"u","x":-6.5,"y":1},{"p":"B","s":"z","d":"u","x":-6.01,"y":4},{"p":"B","s":"z","d":"u","x":-5.93,"y":8},{"p":"B","s":"z","d":"u","x":-5.78,"y":13},{"p":"B","s":"z","d":"u","x":-5.72,"y":21},{"p":"B","s":"z","d":"u","x":-5.63,"y":26},{"p":"B","s":"z","d":"u","x":-5.54,"y":11},{"p":"B","s":"z","d":"u","x":-5.42,"y":4},{"p":"B","s":"z","d":"u","x":-5,"y":3},{"p":"B","s":"z","d":"u","x":-4.36,"y":4},{"p":"B","s":"z","d":"u","x":-3.5,"y":3},{"p":"B","s":"z","d":"u","x":-2.5,"y":3},{"p":"B","s":"z","d":"u","x":-1.5,"y":3},{"p":"B","s":"z","d":"u","x":-1.3,"y":6},{"p":"B","s":"z","d":"u","x":-1.1,"y":6},{"p":"B","s":"z","d":"u","x":-0.83,"y":3},{"p":"B","s":"z","d":"u","x":-0.68,"y":5},{"p":"B","s":"z","d":"u","x":-0.59,"y":19},{"p":"B","s":"z","d":"u","x":-0.5,"y":29},{"p":"B","s":"z","d":"u","x":-0.39,"y":16},{"p":"B","s":"z","d":"u","x":-0.3,"y":8},{"p":"B","s":"z","d":"u","x":-0.15,"y":3},{"p":"B","s":"z","d":"u","x":0,"y":1},{"p":"B","s":"z","d":"u","x":0.36,"y":1},{"p":"B","s":"z","d":"u","x":1,"y":0},{"p":"B","s":"z","d":"u","x":3.4,"y":0},
{"p":"B","s":"z","d":"d","x":-8,"y":0},{"p":"B","s":"z","d":"d","x":-7,"y":-1},{"p":"B","s":"z","d":"d","x":-6,"y":-1},{"p":"B","s":"z","d":"d","x":-5.7,"y":-3},{"p":"B","s":"z","d":"d","x":-5.6,"y":-6},{"p":"B","s":"z","d":"d","x":-5.45,"y":-4},{"p":"B","s":"z","d":"d","x":-5,"y":-2},{"p":"B","s":"z","d":"d","x":-4,"y":-2},{"p":"B","s":"z","d":"d","x":-3,"y":-2},{"p":"B","s":"z","d":"d","x":-2,"y":-2},{"p":"B","s":"z","d":"d","x":-1,"y":-1},{"p":"B","s":"z","d":"d","x":0,"y":0},{"p":"B","s":"z","d":"d","x":0.06,"y":1},{"p":"B","s":"z","d":"d","x":0.36,"y":-1},{"p":"B","s":"z","d":"d","x":0.74,"y":0},{"p":"B","s":"z","d":"d","x":0.95,"y":-2},{"p":"B","s":"z","d":"d","x":1.04,"y":-4},{"p":"B","s":"z","d":"d","x":1.24,"y":-9},{"p":"B","s":"z","d":"d","x":1.42,"y":-16},{"p":"B","s":"z","d":"d","x":1.54,"y":-26},{"p":"B","s":"z","d":"d","x":1.6,"y":-37},{"p":"B","s":"z","d":"d","x":1.69,"y":-29},{"p":"B","s":"z","d":"d","x":1.78,"y":-16},{"p":"B","s":"z","d":"d","x":1.87,"y":-9},{"p":"B","s":"z","d":"d","x":1.99,"y":-4},{"p":"B","s":"z","d":"d","x":2.07,"y":-14},{"p":"B","s":"z","d":"d","x":2.13,"y":-19},{"p":"B","s":"z","d":"d","x":2.19,"y":-9},{"p":"B","s":"z","d":"d","x":2.31,"y":-4},{"p":"B","s":"z","d":"d","x":2.46,"y":-6},{"p":"B","s":"z","d":"d","x":2.61,"y":-1},{"p":"B","s":"z","d":"d","x":2.81,"y":0},{"p":"B","s":"z","d":"d","x":3.4,"y":0},

{"p":"B","s":"t","d":"u","x":-8,"y":0},{"p":"B","s":"t","d":"u","x":-7,"y":0},{"p":"B","s":"t","d":"u","x":-6.73,"y":2},{"p":"B","s":"t","d":"u","x":-6.52,"y":6},{"p":"B","s":"t","d":"u","x":-6.31,"y":11},{"p":"B","s":"t","d":"u","x":-6.16,"y":18},{"p":"B","s":"t","d":"u","x":-6.07,"y":28},{"p":"B","s":"t","d":"u","x":-5.99,"y":24},{"p":"B","s":"t","d":"u","x":-5.87,"y":19},{"p":"B","s":"t","d":"u","x":-5.78,"y":23},{"p":"B","s":"t","d":"u","x":-5.63,"y":18},{"p":"B","s":"t","d":"u","x":-5.48,"y":23},{"p":"B","s":"t","d":"u","x":-5.39,"y":34},{"p":"B","s":"t","d":"u","x":-5.27,"y":28},{"p":"B","s":"t","d":"u","x":-5.19,"y":24},{"p":"B","s":"t","d":"u","x":-5.1,"y":29},{"p":"B","s":"t","d":"u","x":-4.98,"y":23},{"p":"B","s":"t","d":"u","x":-4.83,"y":26},{"p":"B","s":"t","d":"u","x":-4.68,"y":16},{"p":"B","s":"t","d":"u","x":-4.53,"y":11},{"p":"B","s":"t","d":"u","x":-4.36,"y":13},{"p":"B","s":"t","d":"u","x":-4.21,"y":18},{"p":"B","s":"t","d":"u","x":-4.06,"y":11},{"p":"B","s":"t","d":"u","x":-3.85,"y":13},{"p":"B","s":"t","d":"u","x":-3.61,"y":13},{"p":"B","s":"t","d":"u","x":-3.41,"y":9},{"p":"B","s":"t","d":"u","x":-3.11,"y":13},{"p":"B","s":"t","d":"u","x":-2.81,"y":14},{"p":"B","s":"t","d":"u","x":-2.52,"y":16},{"p":"B","s":"t","d":"u","x":-2.37,"y":24},{"p":"B","s":"t","d":"u","x":-2.28,"y":39},{"p":"B","s":"t","d":"u","x":-2.16,"y":38},{"p":"B","s":"t","d":"u","x":-2.01,"y":34},{"p":"B","s":"t","d":"u","x":-1.87,"y":31},{"p":"B","s":"t","d":"u","x":-1.72,"y":26},{"p":"B","s":"t","d":"u","x":-1.57,"y":19},{"p":"B","s":"t","d":"u","x":-1.42,"y":11},{"p":"B","s":"t","d":"u","x":-1.24,"y":4},{"p":"B","s":"t","d":"u","x":-1.04,"y":1},{"p":"B","s":"t","d":"u","x":-0.8,"y":0},{"p":"B","s":"t","d":"u","x":8,"y":0},
{"p":"B","s":"t","d":"d","x":-8,"y":0},{"p":"B","s":"t","d":"d","x":-6.67,"y":-1},{"p":"B","s":"t","d":"d","x":-6.37,"y":-2},{"p":"B","s":"t","d":"d","x":-6.16,"y":-6},{"p":"B","s":"t","d":"d","x":-6.07,"y":-19},{"p":"B","s":"t","d":"d","x":-5.99,"y":-12},{"p":"B","s":"t","d":"d","x":-5.78,"y":-14},{"p":"B","s":"t","d":"d","x":-5.48,"y":-16},{"p":"B","s":"t","d":"d","x":-5.27,"y":-19},{"p":"B","s":"t","d":"d","x":-5.13,"y":-26},{"p":"B","s":"t","d":"d","x":-4.98,"y":-21},{"p":"B","s":"t","d":"d","x":-4.68,"y":-17},{"p":"B","s":"t","d":"d","x":-4.39,"y":-12},{"p":"B","s":"t","d":"d","x":-4.21,"y":-17},{"p":"B","s":"t","d":"d","x":-4,"y":-12},{"p":"B","s":"t","d":"d","x":-3.79,"y":-4},{"p":"B","s":"t","d":"d","x":-3.5,"y":-6},{"p":"B","s":"t","d":"d","x":-3.11,"y":-7},{"p":"B","s":"t","d":"d","x":-2.81,"y":-9},{"p":"B","s":"t","d":"d","x":-2.52,"y":-11},{"p":"B","s":"t","d":"d","x":-2.31,"y":-19},{"p":"B","s":"t","d":"d","x":-2.13,"y":-29},{"p":"B","s":"t","d":"d","x":-1.99,"y":-46},{"p":"B","s":"t","d":"d","x":-1.84,"y":-39},{"p":"B","s":"t","d":"d","x":-1.69,"y":-39},{"p":"B","s":"t","d":"d","x":-1.54,"y":-41},{"p":"B","s":"t","d":"d","x":-1.45,"y":-49},{"p":"B","s":"t","d":"d","x":-1.33,"y":-26},{"p":"B","s":"t","d":"d","x":-1.24,"y":-9},{"p":"B","s":"t","d":"d","x":-1.04,"y":-1},{"p":"B","s":"t","d":"d","x":-0.8,"y":0},{"p":"B","s":"t","d":"d","x":8,"y":0}
],
"notes": [
{"p":"A","k":"ni","t":"Ni","x":-7.23,"y":96},{"p":"A","k":"sub","t":"A","x":-6.52,"y":87},{"p":"A","k":"lab","t":"O 2p","x":-4.0,"y":37},{"p":"A","k":"lab","t":"La 5d","x":5.39,"y":23},{"p":"A","k":"spin","t":"spin majority","x":4.53,"y":107},{"p":"A","k":"spin","t":"spin minority","x":-7.5,"y":-116},{"p":"A","k":"leg","t":"total","x":5.6,"y":-100},
{"p":"B","k":"ni","t":"Ni","x":-7.23,"y":97},{"p":"B","k":"sub","t":"B","x":-6.52,"y":88},{"p":"B","k":"lab","t":"O 2p","x":-4.5,"y":38},{"p":"B","k":"lab","t":"La 5d","x":5.39,"y":23},{"p":"B","k":"leg","t":"x² - y²","x":5.6,"y":-50},{"p":"B","k":"leg","t":"3z² - r²","x":5.6,"y":-84},{"p":"B","k":"leg","t":"t","x":5.6,"y":-107},{"p":"B","k":"legsub","t":"2g","x":5.81,"y":-117}
],
"keys": [
{"p":"A","c":"total","x":4.21,"x2":5.21,"y":-92},
{"p":"B","c":"xy","x":4.21,"x2":5.21,"y":-40},
{"p":"B","c":"z","x":4.21,"x2":5.21,"y":-72},
{"p":"B","c":"t","x":4.21,"x2":5.21,"y":-106}
]
},
"vconcat": [
{
"width": 540, "height": 269,
"layer": [
{"data": {"name": "curves"}, "transform": [{"filter": "datum.p=='A' && datum.s=='tot'"}],
 "mark": {"type": "area", "color": "#d9d9d9"},
 "encoding": {
  "x": {"field": "x", "type": "quantitative", "scale": {"domain": [-8, 8], "nice": false, "zero": false}, "axis": {"orient": "bottom", "values": [-8,-7,-6,-5,-4,-3,-2,-1,0,1,2,3,4,5,6,7,8], "tickSize": -6, "tickWidth": 1.2, "labels": false, "title": null}},
  "y": {"field": "y", "type": "quantitative", "scale": {"domain": [-134, 135], "nice": false, "zero": false}, "axis": {"title": "Spectral function", "titleFontSize": 26, "titleY": 274.5, "titlePadding": 11, "ticks": false, "labels": false}}
 }},
{"data": {"name": "curves"}, "transform": [{"filter": "datum.p=='A' && datum.s=='o2p'"}],
 "mark": {"type": "line", "color": "black", "strokeWidth": 1, "strokeDash": [1, 3]},
 "encoding": {
  "x": {"field": "x", "type": "quantitative", "axis": {"orient": "top", "values": [-8,-7,-6,-5,-4,-3,-2,-1,0,1,2,3,4,5,6,7,8], "tickSize": -6, "tickWidth": 1.2, "labels": false, "title": null}},
  "y": {"field": "y", "type": "quantitative", "axis": null}
 }},
{"data": {"name": "curves"}, "transform": [{"filter": "datum.p=='A' && datum.s=='la'"}],
 "mark": {"type": "line", "color": "black", "strokeWidth": 1, "strokeDash": [4, 3]},
 "encoding": {"x": {"field": "x", "type": "quantitative", "axis": null}, "y": {"field": "y", "type": "quantitative", "axis": null}}},
{"data": {"values": [{}]}, "mark": {"type": "rule", "color": "black", "strokeWidth": 1, "strokeDash": [1, 2]},
 "encoding": {"x": {"datum": 0, "type": "quantitative", "axis": null}}},
{"data": {"name": "curves"}, "transform": [{"filter": "datum.p=='A' && datum.s=='xy'"}],
 "mark": {"type": "line", "color": "#ff0000", "strokeWidth": 1.5},
 "encoding": {"x": {"field": "x", "type": "quantitative", "axis": null}, "y": {"field": "y", "type": "quantitative", "axis": null}, "detail": {"field": "d"}}},
{"data": {"name": "curves"}, "transform": [{"filter": "datum.p=='A' && datum.s=='z'"}],
 "mark": {"type": "line", "color": "#0000ff", "strokeWidth": 1.5},
 "encoding": {"x": {"field": "x", "type": "quantitative", "axis": null}, "y": {"field": "y", "type": "quantitative", "axis": null}, "detail": {"field": "d"}}},
{"data": {"name": "curves"}, "transform": [{"filter": "datum.p=='A' && datum.s=='t'"}],
 "mark": {"type": "line", "color": "#000000", "strokeWidth": 1.5},
 "encoding": {"x": {"field": "x", "type": "quantitative", "axis": null}, "y": {"field": "y", "type": "quantitative", "axis": null}, "detail": {"field": "d"}}},
{"data": {"values": [{}]}, "mark": {"type": "rule", "color": "black", "strokeWidth": 2.5},
 "encoding": {"y": {"datum": 0, "type": "quantitative", "axis": null}}},
{"data": {"name": "keys"}, "transform": [{"filter": "datum.p=='A'"}],
 "mark": {"type": "rule", "strokeWidth": 2},
 "encoding": {"x": {"field": "x", "type": "quantitative", "axis": null}, "x2": {"field": "x2"}, "y": {"field": "y", "type": "quantitative", "axis": null},
  "color": {"field": "c", "type": "nominal", "scale": {"domain": ["total", "xy", "z", "t"], "range": ["#d9d9d9", "#ff0000", "#0000ff", "#000000"]}, "legend": null}}},
{"data": {"name": "notes"}, "transform": [{"filter": "datum.p=='A' && datum.k=='ni'"}],
 "mark": {"type": "text", "fontSize": 24, "align": "left", "baseline": "alphabetic", "color": "black"},
 "encoding": {"x": {"field": "x", "type": "quantitative", "axis": null}, "y": {"field": "y", "type": "quantitative", "axis": null}, "text": {"field": "t"}}},
{"data": {"name": "notes"}, "transform": [{"filter": "datum.p=='A' && datum.k=='sub'"}],
 "mark": {"type": "text", "fontSize": 16, "align": "left", "baseline": "alphabetic", "color": "black"},
 "encoding": {"x": {"field": "x", "type": "quantitative", "axis": null}, "y": {"field": "y", "type": "quantitative", "axis": null}, "text": {"field": "t"}}},
{"data": {"name": "notes"}, "transform": [{"filter": "datum.p=='A' && datum.k=='lab'"}],
 "mark": {"type": "text", "fontSize": 22, "align": "left", "baseline": "alphabetic", "color": "black"},
 "encoding": {"x": {"field": "x", "type": "quantitative", "axis": null}, "y": {"field": "y", "type": "quantitative", "axis": null}, "text": {"field": "t"}}},
{"data": {"name": "notes"}, "transform": [{"filter": "datum.p=='A' && datum.k=='spin'"}],
 "mark": {"type": "text", "fontSize": 18.5, "align": "left", "baseline": "alphabetic", "color": "black"},
 "encoding": {"x": {"field": "x", "type": "quantitative", "axis": null}, "y": {"field": "y", "type": "quantitative", "axis": null}, "text": {"field": "t"}}},
{"data": {"name": "notes"}, "transform": [{"filter": "datum.p=='A' && datum.k=='leg'"}],
 "mark": {"type": "text", "fontSize": 21, "align": "left", "baseline": "alphabetic", "color": "black"},
 "encoding": {"x": {"field": "x", "type": "quantitative", "axis": null}, "y": {"field": "y", "type": "quantitative", "axis": null}, "text": {"field": "t"}}}
],
"resolve": {"axis": {"x": "independent", "y": "independent"}}
},
{
"width": 540, "height": 269,
"layer": [
{"data": {"name": "curves"}, "transform": [{"filter": "datum.p=='B' && datum.s=='tot'"}],
 "mark": {"type": "area", "color": "#d9d9d9"},
 "encoding": {
  "x": {"field": "x", "type": "quantitative", "scale": {"domain": [-8, 8], "nice": false, "zero": false}, "axis": {"orient": "bottom", "values": [-8,-7,-6,-5,-4,-3,-2,-1,0,1,2,3,4,5,6,7,8], "tickSize": -6, "tickWidth": 1.2, "labelExpr": "datum.value % 2 == 0 ? '' + datum.value : ''", "labelFontSize": 20, "labelPadding": 14, "labelFlush": false, "labelOverlap": false, "title": "Energy (eV)", "titleFontSize": 25, "titlePadding": 0}},
  "y": {"field": "y", "type": "quantitative", "scale": {"domain": [-134, 135], "nice": false, "zero": false}, "axis": null}
 }},
{"data": {"name": "curves"}, "transform": [{"filter": "datum.p=='B' && datum.s=='o2p'"}],
 "mark": {"type": "line", "color": "black", "strokeWidth": 1, "strokeDash": [1, 3]},
 "encoding": {
  "x": {"field": "x", "type": "quantitative", "axis": {"orient": "top", "values": [-8,-7,-6,-5,-4,-3,-2,-1,0,1,2,3,4,5,6,7,8], "tickSize": -6, "tickWidth": 1.2, "labels": false, "title": null}},
  "y": {"field": "y", "type": "quantitative", "axis": null}
 }},
{"data": {"name": "curves"}, "transform": [{"filter": "datum.p=='B' && datum.s=='la'"}],
 "mark": {"type": "line", "color": "black", "strokeWidth": 1, "strokeDash": [4, 3]},
 "encoding": {"x": {"field": "x", "type": "quantitative", "axis": null}, "y": {"field": "y", "type": "quantitative", "axis": null}}},
{"data": {"values": [{}]}, "mark": {"type": "rule", "color": "black", "strokeWidth": 1, "strokeDash": [1, 2]},
 "encoding": {"x": {"datum": 0, "type": "quantitative", "axis": null}}},
{"data": {"name": "curves"}, "transform": [{"filter": "datum.p=='B' && datum.s=='xy'"}],
 "mark": {"type": "line", "color": "#ff0000", "strokeWidth": 1.5},
 "encoding": {"x": {"field": "x", "type": "quantitative", "axis": null}, "y": {"field": "y", "type": "quantitative", "axis": null}, "detail": {"field": "d"}}},
{"data": {"name": "curves"}, "transform": [{"filter": "datum.p=='B' && datum.s=='z'"}],
 "mark": {"type": "line", "color": "#0000ff", "strokeWidth": 1.5},
 "encoding": {"x": {"field": "x", "type": "quantitative", "axis": null}, "y": {"field": "y", "type": "quantitative", "axis": null}, "detail": {"field": "d"}}},
{"data": {"name": "curves"}, "transform": [{"filter": "datum.p=='B' && datum.s=='t'"}],
 "mark": {"type": "line", "color": "#000000", "strokeWidth": 1.5},
 "encoding": {"x": {"field": "x", "type": "quantitative", "axis": null}, "y": {"field": "y", "type": "quantitative", "axis": null}, "detail": {"field": "d"}}},
{"data": {"values": [{}]}, "mark": {"type": "rule", "color": "black", "strokeWidth": 2.5},
 "encoding": {"y": {"datum": 0, "type": "quantitative", "axis": null}}},
{"data": {"name": "keys"}, "transform": [{"filter": "datum.p=='B'"}],
 "mark": {"type": "rule", "strokeWidth": 2},
 "encoding": {"x": {"field": "x", "type": "quantitative", "axis": null}, "x2": {"field": "x2"}, "y": {"field": "y", "type": "quantitative", "axis": null},
  "color": {"field": "c", "type": "nominal", "scale": {"domain": ["total", "xy", "z", "t"], "range": ["#d9d9d9", "#ff0000", "#0000ff", "#000000"]}, "legend": null}}},
{"data": {"name": "notes"}, "transform": [{"filter": "datum.p=='B' && datum.k=='ni'"}],
 "mark": {"type": "text", "fontSize": 24, "align": "left", "baseline": "alphabetic", "color": "black"},
 "encoding": {"x": {"field": "x", "type": "quantitative", "axis": null}, "y": {"field": "y", "type": "quantitative", "axis": null}, "text": {"field": "t"}}},
{"data": {"name": "notes"}, "transform": [{"filter": "datum.p=='B' && (datum.k=='sub' || datum.k=='legsub')"}],
 "mark": {"type": "text", "fontSize": 16, "align": "left", "baseline": "alphabetic", "color": "black"},
 "encoding": {"x": {"field": "x", "type": "quantitative", "axis": null}, "y": {"field": "y", "type": "quantitative", "axis": null}, "text": {"field": "t"}}},
{"data": {"name": "notes"}, "transform": [{"filter": "datum.p=='B' && datum.k=='lab'"}],
 "mark": {"type": "text", "fontSize": 22, "align": "left", "baseline": "alphabetic", "color": "black"},
 "encoding": {"x": {"field": "x", "type": "quantitative", "axis": null}, "y": {"field": "y", "type": "quantitative", "axis": null}, "text": {"field": "t"}}},
{"data": {"name": "notes"}, "transform": [{"filter": "datum.p=='B' && datum.k=='leg'"}],
 "mark": {"type": "text", "fontSize": 21, "align": "left", "baseline": "alphabetic", "color": "black"},
 "encoding": {"x": {"field": "x", "type": "quantitative", "axis": null}, "y": {"field": "y", "type": "quantitative", "axis": null}, "text": {"field": "t"}}}
],
"resolve": {"axis": {"x": "independent", "y": "independent"}}
}
]
}
